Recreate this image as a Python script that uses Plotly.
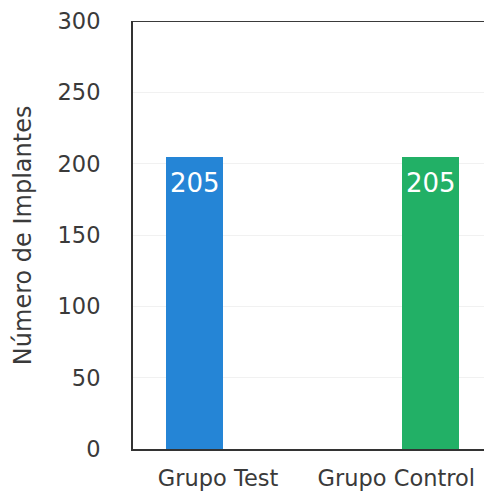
import plotly.graph_objects as go

# Data
categories = ["Grupo Test", "Grupo Control"]
values = [205, 205]
bar_colors = ["#2585d6", "#22b066"]
y_ticks = [0, 50, 100, 150, 200, 250, 300]
y_title = "Número de Implantes"

bar_pos = list(range(len(categories)))
label_pos = [0.10, 0.855]  # category labels sit slightly inward of the bars

fig = go.Figure()
fig.add_trace(go.Bar(
    x=bar_pos,
    y=values,
    width=0.24,
    marker=dict(color=bar_colors, line=dict(width=0)),
    showlegend=False,
    hoverinfo="skip",
))

# value labels inside the top of each bar
for xp, v in zip(bar_pos, values):
    fig.add_annotation(
        x=xp, y=v, xref="x", yref="y",
        text=str(v), showarrow=False,
        yanchor="top", yshift=-9,
        font=dict(family="DejaVu Sans", size=26, color="#ffffff"),
    )

# rotated y-axis title
fig.add_annotation(
    x=-0.313, y=0.5, xref="paper", yref="paper",
    text=y_title, showarrow=False, textangle=-90,
    xanchor="center", yanchor="middle",
    font=dict(family="DejaVu Sans", size=24, color="#3a3a3a"),
)

# top frame line
fig.add_shape(
    type="line", xref="paper", yref="y",
    x0=0, x1=1, y0=300, y1=300,
    line=dict(color="#3a3a3a", width=2),
)

fig.update_layout(
    width=484, height=491,
    margin=dict(l=133, r=0, t=21, b=37),
    paper_bgcolor="#ffffff",
    plot_bgcolor="#ffffff",
    bargap=0,
    xaxis=dict(
        range=[-0.2606, 1.2267],
        tickvals=label_pos,
        ticktext=categories,
        showgrid=False, zeroline=False,
        showline=True, linecolor="#333333", linewidth=2,
        ticks="", ticklabelstandoff=8,
        tickfont=dict(family="DejaVu Sans", size=22.5, color="#3a3a3a"),
    ),
    yaxis=dict(
        range=[0, 300],
        tickvals=y_ticks,
        showgrid=True, gridcolor="#f1f1f1", gridwidth=1,
        zeroline=False,
        showline=True, linecolor="#333333", linewidth=2,
        ticks="", ticklabelstandoff=26,
        tickfont=dict(family="DejaVu Sans", size=22.5, color="#3a3a3a"),
    ),
)

fig.write_html("out.html")
